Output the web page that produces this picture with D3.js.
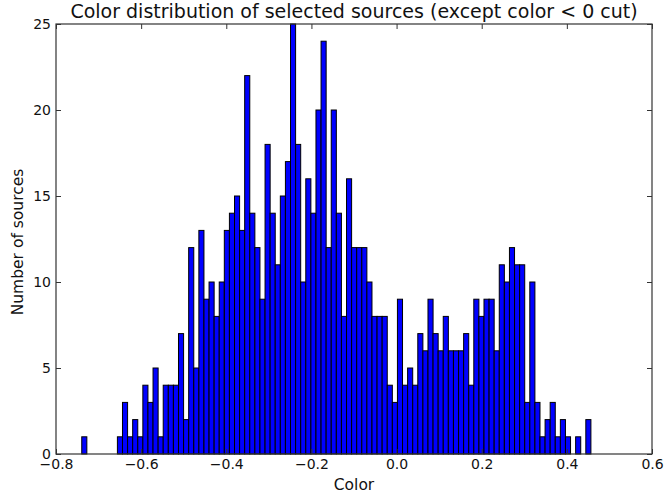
<!DOCTYPE html>
<html>
<head>
<meta charset="utf-8">
<script src="https://cdn.jsdelivr.net/npm/d3@7"></script>
<style>
  html, body { margin: 0; padding: 0; background: #fff; }
  svg { display: block; }
  text { font-family: "DejaVu Sans", sans-serif; fill: #111; }
</style>
</head>
<body>
<svg id="chart" width="665" height="493"></svg>
<script>
// Histogram of source colours: 100 equal-width bins
const binStart = -0.7395;
const binEnd = 0.4565;
const counts = [
  1, 0, 0, 0, 0, 0, 0, 1, 3, 1,
  2, 1, 4, 3, 5, 1, 4, 4, 4, 7,
  2, 12, 5, 13, 9, 10, 8, 10, 13, 14,
  15, 13, 22, 14, 12, 9, 18, 14, 11, 15,
  17, 25, 18, 10, 16, 14, 20, 24, 12, 20,
  14, 8, 16, 12, 12, 12, 10, 8, 8, 8,
  4, 3, 9, 4, 5, 4, 7, 6, 9, 7,
  6, 8, 6, 6, 6, 7, 4, 9, 8, 9,
  9, 6, 11, 10, 12, 11, 11, 3, 10, 3,
  1, 2, 3, 1, 2, 1, 0, 1, 0, 2
];
const xTicks = [-0.8, -0.6, -0.4, -0.2, 0.0, 0.2, 0.4, 0.6];
const yTicks = [0, 5, 10, 15, 20, 25];

const titleText = "Color distribution of selected sources (except color < 0 cut)";
const xLabel = "Color";
const yLabel = "Number of sources";

const svg = d3.select("#chart");
const plotL = 56, plotR = 652, plotT = 24, plotB = 454;

const x = d3.scaleLinear().domain([-0.8, 0.6]).range([plotL, plotR]);
const y = d3.scaleLinear().domain([0, 25]).range([plotB, plotT]);

const binW = (binEnd - binStart) / counts.length;
const bins = counts.map((c, i) => ({ x0: binStart + i * binW, x1: binStart + (i + 1) * binW, n: c }));

// bars
svg.append("g")
  .selectAll("rect")
  .data(bins.filter(d => d.n > 0))
  .join("rect")
  .attr("x", d => x(d.x0))
  .attr("width", d => x(d.x1) - x(d.x0))
  .attr("y", d => y(d.n))
  .attr("height", d => y(0) - y(d.n))
  .attr("fill", "#0000ff")
  .attr("stroke", "#000")
  .attr("stroke-width", 1);

// frame
svg.append("rect")
  .attr("x", plotL).attr("y", plotT)
  .attr("width", plotR - plotL).attr("height", plotB - plotT)
  .attr("fill", "none").attr("stroke", "#333").attr("stroke-width", 1.2);

const tickLen = 5;
const fmtX = v => d3.format(".1f")(v).replace("-", "\u2212");

// axes with inward ticks
const axB = svg.append("g").attr("transform", `translate(0,${plotB})`)
  .call(d3.axisBottom(x).tickValues(xTicks).tickSizeInner(-tickLen).tickSizeOuter(0).tickPadding(5).tickFormat(fmtX));
const axT = svg.append("g").attr("transform", `translate(0,${plotT})`)
  .call(d3.axisTop(x).tickValues(xTicks).tickSizeInner(-tickLen).tickSizeOuter(0).tickFormat(""));
const axL = svg.append("g").attr("transform", `translate(${plotL},0)`)
  .call(d3.axisLeft(y).tickValues(yTicks).tickSizeInner(-tickLen).tickSizeOuter(0).tickPadding(5).tickFormat(d3.format("d")));
const axR = svg.append("g").attr("transform", `translate(${plotR},0)`)
  .call(d3.axisRight(y).tickValues(yTicks).tickSizeInner(-tickLen).tickSizeOuter(0).tickFormat(""));

[axB, axT, axL, axR].forEach(g => {
  g.select(".domain").remove();
  g.selectAll(".tick line").attr("stroke", "#333").attr("stroke-width", 1);
  g.selectAll(".tick text").attr("font-size", 14).attr("font-family", "DejaVu Sans, sans-serif").attr("fill", "#111");
});

// title and axis labels
svg.append("text")
  .attr("x", (plotL + plotR) / 2).attr("y", 18)
  .attr("text-anchor", "middle").attr("font-size", 19)
  .text(titleText);

svg.append("text")
  .attr("x", (plotL + plotR) / 2).attr("y", 490)
  .attr("text-anchor", "middle").attr("font-size", 15.5)
  .text(xLabel);

svg.append("text")
  .attr("transform", `translate(23,242) rotate(-90)`)
  .attr("text-anchor", "middle").attr("font-size", 15.5)
  .text(yLabel);
</script>
</body>
</html>
